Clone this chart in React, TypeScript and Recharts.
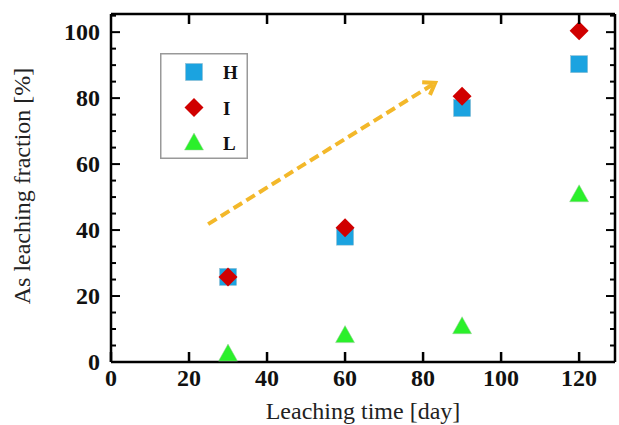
import React from 'react';
import {
  ScatterChart,
  Scatter,
  XAxis,
  YAxis,
  ReferenceLine,
} from 'recharts';

const days = [30, 60, 90, 120];
const hValues = [25.8, 38, 77, 90.3];
const iValues = [25.8, 40.7, 80.6, 100.4];
const lValues = [2.4, 8, 10.7, 50.7];

const xTicks = [0, 20, 40, 60, 80, 100, 120];
const yTicks = [0, 5, 10, 15, 20, 25, 30, 35, 40, 45, 50, 55, 60, 65, 70, 75, 80, 85, 90, 95, 100, 105];
const yLabels = [0, 20, 40, 60, 80, 100];

// trend arrow, in data units (day, %)
const arrowFrom = { x: 24.9, y: 41.8 };
const arrowTo = { x: 83.1, y: 84.6 };

const BLUE = '#1ba3e0';
const RED = '#d00000';
const GREEN = '#2bf02b';
const ARROW = '#f3b82a';

const hData = days.map((d, i) => ({ x: d, y: hValues[i] }));
const iData = days.map((d, i) => ({ x: d, y: iValues[i] }));
const lData = days.map((d, i) => ({ x: d, y: lValues[i] }));

const FONT = '"Liberation Serif", "Times New Roman", serif';

const Square = ({ cx, cy }: any) => (
  <rect x={cx - 8.5} y={cy - 8.5} width={17} height={17} fill={BLUE} stroke="#8fb9cc" strokeWidth={0.5} />
);
const Diamond = ({ cx, cy }: any) => (
  <path d={`M${cx},${cy - 9.5}L${cx + 9.5},${cy}L${cx},${cy + 9.5}L${cx - 9.5},${cy}Z`} fill={RED} />
);
const Triangle = ({ cx, cy }: any) => (
  <path d={`M${cx},${cy - 10}L${cx + 9.5},${cy + 7}L${cx - 9.5},${cy + 7}Z`} fill={GREEN} stroke="#9ccf9c" strokeWidth={0.5} />
);

// left axis: inward ticks, labels only every 20
const LeftTick = ({ x, y, payload }: any) => {
  const ax = x + 11;
  const major = yLabels.includes(payload.value);
  return (
    <g>
      <line x1={ax} x2={ax + (major ? 9 : 5)} y1={y} y2={y} stroke="#000" strokeWidth={2} />
      {major && (
        <text x={x} y={y + 8} textAnchor="end" fontFamily={FONT} fontWeight="bold" fontSize={24} fill="#111">
          {payload.value}
        </text>
      )}
    </g>
  );
};

const RightTick = ({ x, y, payload }: any) => {
  const ax = x - 11;
  const major = yLabels.includes(payload.value);
  return <line x1={ax} x2={ax - (major ? 9 : 5)} y1={y} y2={y} stroke="#000" strokeWidth={2} />;
};

const BottomTick = ({ x, y, payload }: any) => {
  const ay = y - 8;
  return (
    <g>
      <line x1={x} x2={x} y1={ay} y2={ay - 10} stroke="#000" strokeWidth={2.5} />
      <text x={x} y={ay + 24} textAnchor="middle" fontFamily={FONT} fontWeight="bold" fontSize={24} fill="#111">
        {payload.value}
      </text>
    </g>
  );
};

const TopTick = ({ x, y, payload }: any) => {
  const ay = y + 8;
  if (payload.value === 0) return <g />;
  return <line x1={x} x2={x} y1={ay} y2={ay + 10} stroke="#000" strokeWidth={2.5} />;
};

const ArrowShape = (props: any) => {
  const { x1, y1, x2, y2 } = props;
  if ([x1, y1, x2, y2].some((v) => typeof v !== 'number')) return <g />;
  const ang = Math.atan2(y2 - y1, x2 - x1);
  const len = 13;
  const a1 = ang + Math.PI - 0.6;
  const a2 = ang + Math.PI + 0.6;
  return (
    <g>
      <line x1={x1} y1={y1} x2={x2 - 3 * Math.cos(ang)} y2={y2 - 3 * Math.sin(ang)} stroke={ARROW} strokeWidth={4} strokeDasharray="10 5" />
      <path
        d={`M${x2 + len * Math.cos(a1)},${y2 + len * Math.sin(a1)}L${x2},${y2}L${x2 + len * Math.cos(a2)},${y2 + len * Math.sin(a2)}`}
        fill="none"
        stroke={ARROW}
        strokeWidth={4}
        strokeLinejoin="miter"
      />
    </g>
  );
};

const legendItems = [
  { name: 'H', Icon: Square },
  { name: 'I', Icon: Diamond },
  { name: 'L', Icon: Triangle },
];

const LegendBox = () => (
  <svg width={88} height={106} style={{ position: 'absolute', left: 160, top: 53 }}>
    <rect x={0.75} y={0.75} width={86.5} height={104.5} fill="#fff" stroke="#999" strokeWidth={1.5} />
    {legendItems.map(({ name, Icon }, i) => (
      <g key={name}>
        <Icon cx={34} cy={19 + i * 35.5} />
        <text x={63} y={26 + i * 35.5} fontFamily={FONT} fontWeight="bold" fontSize={19} fill="#111">
          {name}
        </text>
      </g>
    ))}
  </svg>
);

export default function App() {
  return (
    <div style={{ position: 'absolute', left: 0, top: 0, width: 619, height: 425, background: '#fff' }}>
      <ScatterChart width={619} height={425} margin={{ top: 0, right: 0, bottom: 0, left: 0 }}>
        <XAxis
          xAxisId="b"
          type="number"
          dataKey="x"
          domain={[0, 129.2]}
          ticks={xTicks}
          height={63}
          tickSize={0}
          tickMargin={8}
          tickLine={false}
          tick={<BottomTick />}
          axisLine={{ stroke: '#000', strokeWidth: 2.5 }}
          allowDataOverflow
        />
        <XAxis
          xAxisId="t"
          orientation="top"
          type="number"
          dataKey="x"
          domain={[0, 129.2]}
          ticks={xTicks}
          height={14}
          tickSize={0}
          tickMargin={8}
          tickLine={false}
          tick={<TopTick />}
          axisLine={{ stroke: '#000', strokeWidth: 2.5 }}
          allowDataOverflow
        />
        <YAxis
          yAxisId="l"
          type="number"
          dataKey="y"
          domain={[0, 105.5]}
          ticks={yTicks}
          interval={0}
          width={111}
          tickSize={0}
          tickMargin={11}
          tickLine={false}
          tick={<LeftTick />}
          axisLine={{ stroke: '#000', strokeWidth: 2.5 }}
          allowDataOverflow
        />
        <YAxis
          yAxisId="r"
          orientation="right"
          type="number"
          dataKey="y"
          domain={[0, 105.5]}
          ticks={yTicks}
          interval={0}
          width={4}
          tickSize={0}
          tickMargin={11}
          tickLine={false}
          tick={<RightTick />}
          axisLine={{ stroke: '#000', strokeWidth: 2.5 }}
          allowDataOverflow
        />
        <ReferenceLine
          xAxisId="b"
          yAxisId="l"
          segment={[arrowFrom, arrowTo]}
          shape={<ArrowShape />}
          ifOverflow="visible"
        />
        <Scatter name="H" data={hData} xAxisId="b" yAxisId="l" shape={<Square />} isAnimationActive={false} />
        <Scatter name="I" data={iData} xAxisId="b" yAxisId="l" shape={<Diamond />} isAnimationActive={false} />
        <Scatter name="L" data={lData} xAxisId="b" yAxisId="l" shape={<Triangle />} isAnimationActive={false} />
        <text x={363} y={419} textAnchor="middle" fontFamily={FONT} fontSize={24} fill="#222">
          Leaching time [day]
        </text>
        <text
          x={30}
          y={186}
          transform="rotate(-90 30 186)"
          textAnchor="middle"
          fontFamily={FONT}
          fontSize={24}
          fill="#222"
        >
          As leaching fraction [%]
        </text>
      </ScatterChart>
      <LegendBox />
    </div>
  );
}
